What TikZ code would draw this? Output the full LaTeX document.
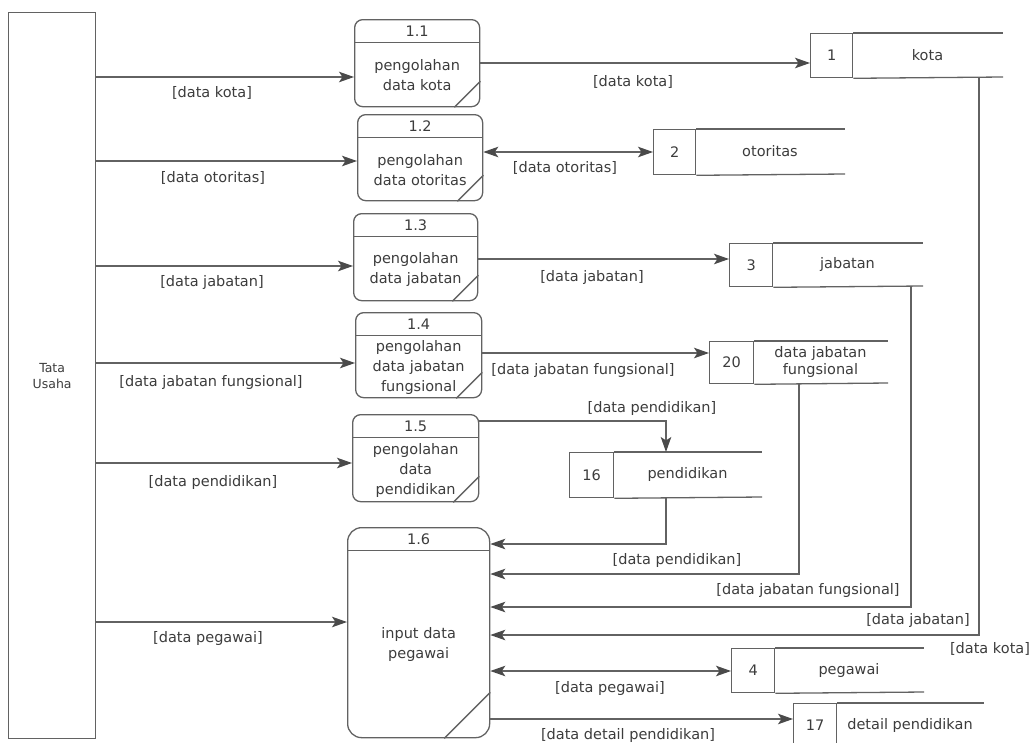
\documentclass[tikz,border=0pt]{standalone}
\usepackage{fontspec}
\setmainfont{DejaVu Sans}
\usetikzlibrary{arrows.meta}
\definecolor{ln}{HTML}{626262}
\definecolor{tip}{HTML}{4A4A4A}
\definecolor{tx}{HTML}{3C3C3C}

\tikzset{
  base/.style={line width=1.3pt, draw=ln},
  txt/.style={text=tx, inner sep=0pt, font=\fontsize{14.5}{20}\selectfont},
  lbl/.style={txt},
  procbox/.style={base, inner sep=0pt},
  storebox/.style={base, inner sep=0pt, txt},
  hd/.tip={Stealth[length=15pt, width=10.5pt, inset=3.5pt, color=tip]},
  flow/.style={base, -{hd}},
  flow2/.style={base, {hd}-{hd}}
}

% process: name, left, top, right, bottom, corner radius, number, text, slash size
\newcommand{\process}[9]{%
  \node[procbox, rounded corners=#6pt, minimum width={(#4-#2)*1pt},
        minimum height={(#5-#3)*1pt}, anchor=north west] (#1) at (#2,#3) {};
  \draw[base] ([yshift=-23.5pt]#1.north west) -- ([yshift=-23.5pt]#1.north east);
  \draw[base] ([yshift=#9pt]#1.south east) -- ([xshift=-#9pt]#1.south east);
  \node[txt] (#1-num) at ([yshift=-12pt]#1.north) {#7};
  \node[txt, align=center] (#1-txt) at ([yshift=-12pt]#1.center) {#8};
}

% data store: name, left, top, divider, right end, bottom, number, text
\newcommand{\datastore}[8]{%
  \node[storebox, minimum width={(#4-#2)*1pt}, minimum height={(#6-#3)*1pt},
        anchor=north west] (#1) at (#2,#3) {#7};
  \node[txt, align=center] (#1-name) at ({(#4+#5)/2},{(#3+#6)/2}) {#8};
  \draw[base] (#1.north east) -- (#5,#3);
  \draw[base] (#1.south east) -- (#5,#6);
}

\begin{document}
\begin{tikzpicture}[x=1pt, y=-1pt]
\useasboundingbox (0,0) rectangle (1035,742);

% external entity
\node[procbox, minimum width=87pt, minimum height=726pt, anchor=north west] (tata) at (8,12) {};
\node[txt, align=center, font=\fontsize{12.5}{16}\selectfont] (tata-txt) at (tata.center) {Tata\\Usaha};

% processes
\process{p11}{354}{19}{479}{106}{8}{1.1}{pengolahan\\data kota}{26}
\process{p12}{357}{114}{482}{200}{8}{1.2}{pengolahan\\data otoritas}{26}
\process{p13}{353}{213}{477}{300}{8}{1.3}{pengolahan\\data jabatan}{26}
\process{p14}{355}{312}{481}{397}{8}{1.4}{pengolahan\\data jabatan\\fungsional}{26}
\process{p15}{352}{414}{478}{501}{8}{1.5}{pengolahan\\data\\pendidikan}{26}
\process{p16}{347}{527}{489}{737}{14}{1.6}{input data\\pegawai}{46}

% data stores
\datastore{s1}{810}{33}{852}{1003}{77}{1}{kota}
\datastore{s2}{653}{129}{695}{845}{174}{2}{otoritas}
\datastore{s3}{729}{243}{772}{923}{286}{3}{jabatan}
\datastore{s20}{709}{341}{753}{888}{383}{20}{data jabatan\\[-3pt]fungsional}
\datastore{s16}{569}{452}{613}{762}{497}{16}{pendidikan}
\datastore{s4}{731}{648}{774}{924}{692}{4}{pegawai}
\datastore{s17}{793}{703}{836}{984}{747}{17}{detail pendidikan}

% attachment points on the stores
\coordinate (s16-in)  at (666,452);
\coordinate (s16-out) at (666,497);
\coordinate (s20-out) at (799,383);
\coordinate (s3-out)  at (911,286);
\coordinate (s1-out)  at (979,77);

% flows from Tata Usaha
\draw[flow] (tata.east |- 0,77)  -- (p11.west |- 0,77);
\draw[flow] (tata.east |- 0,161) -- (p12.west |- 0,161);
\draw[flow] (tata.east |- 0,266) -- (p13.west |- 0,266);
\draw[flow] (tata.east |- 0,363) -- (p14.west |- 0,363);
\draw[flow] (tata.east |- 0,463) -- (p15.west |- 0,463);
\draw[flow] (tata.east |- 0,622) -- (p16.west |- 0,622);

\node[lbl] (la1) at (212,93)  {[data kota]};
\node[lbl] (la2) at (213,178) {[data otoritas]};
\node[lbl] (la3) at (212,282) {[data jabatan]};
\node[lbl] (la4) at (211,382) {[data jabatan fungsional]};
\node[lbl] (la5) at (213,482) {[data pendidikan]};
\node[lbl] (la6) at (208,638) {[data pegawai]};

% flows from processes to stores
\draw[flow]  (p11.east |- 0,63)  -- (s1.west |- 0,63);
\draw[flow2] (p12.east |- 0,152) -- (s2.west |- 0,152);
\draw[flow]  (p13.east |- 0,259) -- (s3.west |- 0,259);
\draw[flow]  (p14.east |- 0,353) -- (s20.west |- 0,353);
\draw[flow]  (p15.east |- 0,421) -| (s16-in);

\node[lbl] (lb1) at (633,82)  {[data kota]};
\node[lbl] (lb2) at (565,168) {[data otoritas]};
\node[lbl] (lb3) at (592,277) {[data jabatan]};
\node[lbl] (lb4) at (583,370) {[data jabatan fungsional]};
\node[lbl] (lb5) at (652,408) {[data pendidikan]};

% flows from stores into input data pegawai
\draw[flow] (s16-out) |- (p16.east |- 0,544);
\draw[flow] (s20-out) |- (p16.east |- 0,574);
\draw[flow] (s3-out)  |- (p16.east |- 0,607);
\draw[flow] (s1-out)  |- (p16.east |- 0,635);

\node[lbl] (lc1) at (677,560) {[data pendidikan]};
\node[lbl] (lc2) at (808,590) {[data jabatan fungsional]};
\node[lbl] (lc3) at (918,620) {[data jabatan]};
\node[lbl] (lc4) at (990,649) {[data kota]};

% flows from input data pegawai
\draw[flow2] (p16.east |- 0,671) -- (s4.west |- 0,671);
\draw[flow]  (p16.east |- 0,719) -- (s17.west |- 0,719);

\node[lbl] (ld1) at (610,688) {[data pegawai]};
\node[lbl] (ld2) at (628,735) {[data detail pendidikan]};
\end{tikzpicture}
\end{document}
